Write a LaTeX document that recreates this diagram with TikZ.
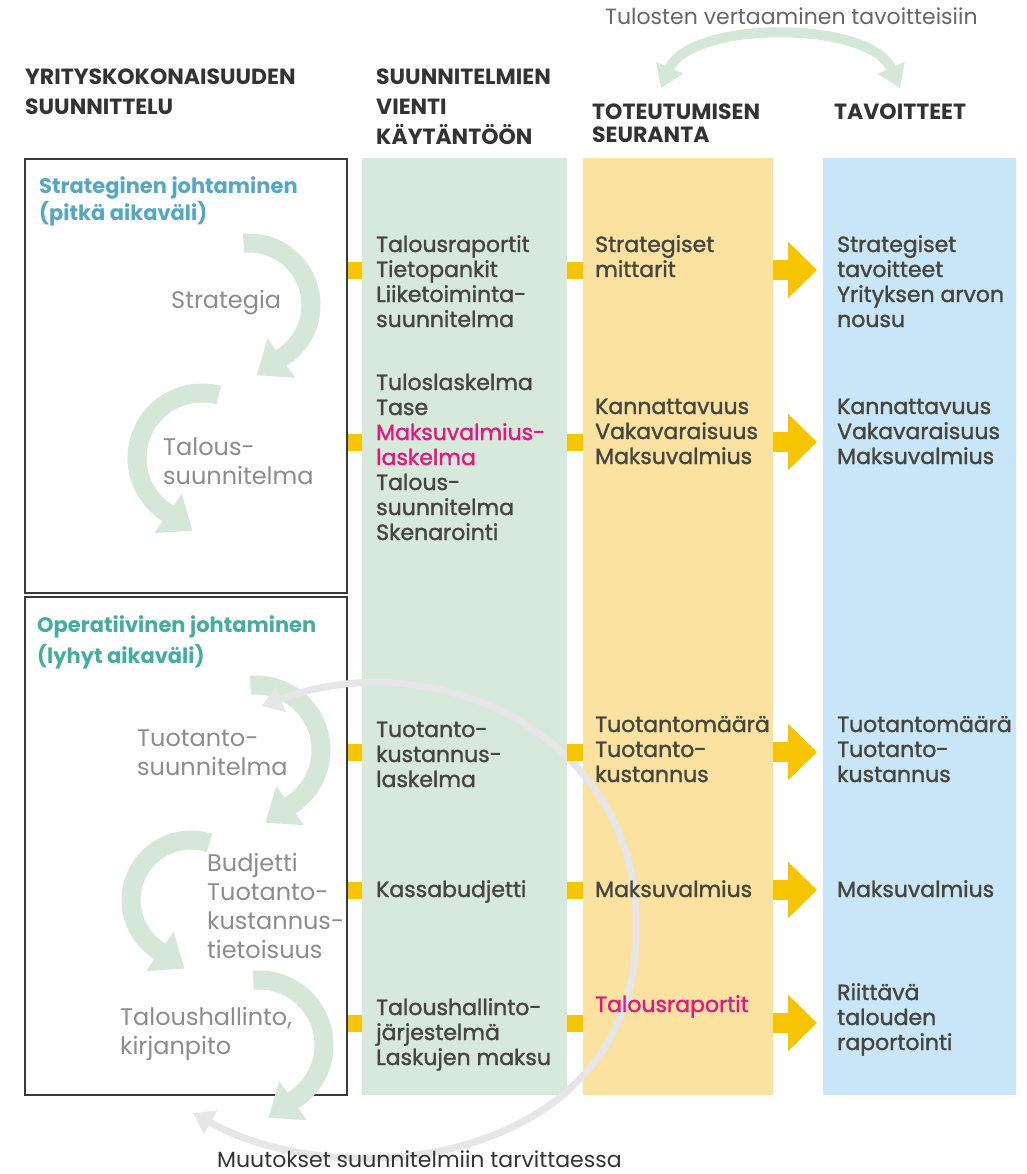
\documentclass[tikz,border=0pt]{standalone}
\usepackage{fontspec}
\setmainfont{Poppins}
\newfontfamily\medfont[FakeBold=1.5]{Poppins}
\usetikzlibrary{arrows.meta}

\definecolor{plangreen}{HTML}{D7E9DB}
\definecolor{trackyellow}{HTML}{FCE2A0}
\definecolor{goalblue}{HTML}{C9E6F8}
\definecolor{sunyellow}{HTML}{F6C500}
\definecolor{swirlgreen}{HTML}{D5E7D9}
\definecolor{loopgray}{HTML}{E6E6E6}
\definecolor{framegray}{HTML}{3A3A3A}
\definecolor{hdrgray}{HTML}{333333}
\definecolor{capgray}{HTML}{666666}
\definecolor{txtgray}{HTML}{46463F}
\definecolor{leftgray}{HTML}{8C8C8C}
\definecolor{stratblue}{HTML}{55A8C4}
\definecolor{opergreen}{HTML}{45AD9F}
\definecolor{alertpink}{HTML}{E2187F}

\begin{document}
\begin{tikzpicture}[x=1pt,y=-1pt,
    colbox/.style={inner sep=0pt, anchor=north west},
    framebox/.style={draw=framegray, line width=2pt, inner sep=0pt, anchor=north west},
    hdr/.style={anchor=base west, inner sep=0pt, align=left, text=hdrgray,
        font=\bfseries\fontsize{22}{30}\selectfont},
    captxt/.style={anchor=base west, inner sep=0pt, font=\fontsize{22}{26}\selectfont},
    txt/.style={anchor=base west, inner sep=0pt, align=left, text=txtgray,
        font=\medfont\fontsize{22}{25}\selectfont},
    lefttxt/.style={anchor=base west, inner sep=0pt, align=left, text=leftgray,
        font=\fontsize{24}{29}\selectfont},
    lead/.style={anchor=base west, inner sep=0pt, align=left,
        font=\bfseries\fontsize{21}{27}\selectfont},
    sq/.style={draw=sunyellow, line width=17pt},
    fat/.style={draw=sunyellow, line width=20pt, -{Triangle[length=29pt,width=55pt]}, shorten >=6pt},
    swirl/.style={draw=swirlgreen, line width=19pt, -{Triangle[length=30pt,width=46pt]}},
    cmparrow/.style={draw=swirlgreen, line width=10pt,
        {Triangle[length=22pt,width=28pt]}-{Triangle[length=22pt,width=28pt]}},
    loopline/.style={draw=loopgray, line width=7pt,
        {Triangle[length=20pt,width=26pt]}-{Triangle[length=20pt,width=26pt]}},
]
\useasboundingbox[fill=white] (0,0) rectangle (1026,1174);

% columns and frames
\node[colbox, fill=plangreen, minimum width=205pt, minimum height=937pt] (plan) at (362,158) {};
\node[colbox, fill=trackyellow, minimum width=190pt, minimum height=937pt] (track) at (583,158) {};
\node[colbox, fill=goalblue, minimum width=193pt, minimum height=937pt] (goal) at (823,158) {};
\node[framebox, minimum width=322pt, minimum height=434pt] (strat) at (24,158) {};
\node[framebox, minimum width=322pt, minimum height=498pt] (oper) at (24,596) {};

% circular arrows inside the frames
\foreach \cx/\cy/\r/\a/\b/\d in {249/305/62/-95/55/145, 202/458/65/-75/-235/35,
    256/750/65/-95/55/145, 191/900/60/-72/-235/35, 259/1045/65/-95/55/145}
    \draw[swirl] (\cx,\cy) ++(\a:\r) arc[start angle=\a, end angle=\b, radius=\r] -- ++(\d:34);

% loop back to the plans
\coordinate (loopa) at (262,706);
\coordinate (loopr) at (636,927);
\coordinate (loopb) at (193,1113);
\draw[loopline] (loopa) .. controls (440,640) and (640,740) .. (loopr)
    .. controls (640,1160) and (350,1200) .. (loopb);

% comparing results with goals
\coordinate (cmpa) at (661,88);
\coordinate (cmpb) at (900,88);
\draw[cmparrow] (cmpa) .. controls (690,20) and (870,20) .. (cmpb);

% row connectors
\foreach \n/\y in {1/270,2/442,3/752,4/890,5/1023}
    \coordinate (r\n) at (0,\y);
\foreach \n/\b in {1/strat,2/strat,3/oper,4/oper,5/oper} {
    \draw[sq] (\b.east |- r\n) -- (plan.west |- r\n);
    \draw[sq] (plan.east |- r\n) -- (track.west |- r\n);
    \draw[fat] (track.east |- r\n) -- (goal.west |- r\n);
}

% headings (y = baseline of the last line)
\node[captxt, text=capgray] (cmp) at (605,25) {Tulosten vertaaminen tavoitteisiin};
\node[hdr] (hdframe) at (25,115) {YRITYSKOKONAISUUDEN\\SUUNNITTELU};
\node[hdr] (hdplan) at (376,145) {SUUNNITELMIEN\\VIENTI\\KÄYTÄNTÖÖN};
\node[hdr, font=\bfseries\fontsize{22}{23}\selectfont] (hdtrack) at (592,143) {TOTEUTUMISEN\\SEURANTA};
\node[hdr] (hdgoal) at (834,120) {TAVOITTEET};

% frame texts
\node[lead, text=stratblue] (stratlead) at (39,221) {Strateginen johtaminen\\(pitkä aikaväli)};
\node[lefttxt] (strategia) at (171,308) {Strategia};
\node[lefttxt] (talsuun) at (163,484) {Talous-\\suunnitelma};
\node[lead, text=opergreen, font=\bfseries\fontsize{21}{31}\selectfont] (operlead) at (37,663)
    {Operatiivinen johtaminen\\(lyhyt aikaväli)};
\node[lefttxt] (tuotsuun) at (137,775) {Tuotanto-\\suunnitelma};
\node[lefttxt] (budjetti) at (207,958) {Budjetti\\Tuotanto-\\kustannus-\\tietoisuus};
\node[lefttxt] (kirjanpito) at (120,1054) {Taloushallinto,\\kirjanpito};

% plans column
\node[txt] (pl1) at (376,327) {Talousraportit\\Tietopankit\\Liiketoiminta-\\suunnitelma};
\node[txt] (pl2) at (376,540) {Tuloslaskelma\\Tase\\\textcolor{alertpink}{Maksuvalmius-}\\
    \textcolor{alertpink}{laskelma}\\Talous-\\suunnitelma\\Skenarointi};
\node[txt] (pl3) at (376,787) {Tuotanto-\\kustannus-\\laskelma};
\node[txt] (pl4) at (376,897) {Kassabudjetti};
\node[txt] (pl5) at (376,1065) {Taloushallinto-\\järjestelmä\\Laskujen maksu};

% follow-up column
\node[txt] (tr1) at (595,277) {Strategiset\\mittarit};
\node[txt] (tr2) at (595,464) {Kannattavuus\\Vakavaraisuus\\Maksuvalmius};
\node[txt] (tr3) at (595,782) {Tuotantomäärä\\Tuotanto-\\kustannus};
\node[txt] (tr4) at (595,897) {Maksuvalmius};
\node[txt, text=alertpink] (tr5) at (595,1012) {Talousraportit};

% goals column
\node[txt] (gl1) at (837,327) {Strategiset\\tavoitteet\\Yrityksen arvon\\nousu};
\node[txt] (gl2) at (837,464) {Kannattavuus\\Vakavaraisuus\\Maksuvalmius};
\node[txt] (gl3) at (837,782) {Tuotantomäärä\\Tuotanto-\\kustannus};
\node[txt] (gl4) at (837,897) {Maksuvalmius};
\node[txt] (gl5) at (837,1050) {Riittävä\\talouden\\raportointi};

\node[captxt, text=hdrgray] (chg) at (217,1167) {Muutokset suunnitelmiin tarvittaessa};
\end{tikzpicture}
\end{document}
